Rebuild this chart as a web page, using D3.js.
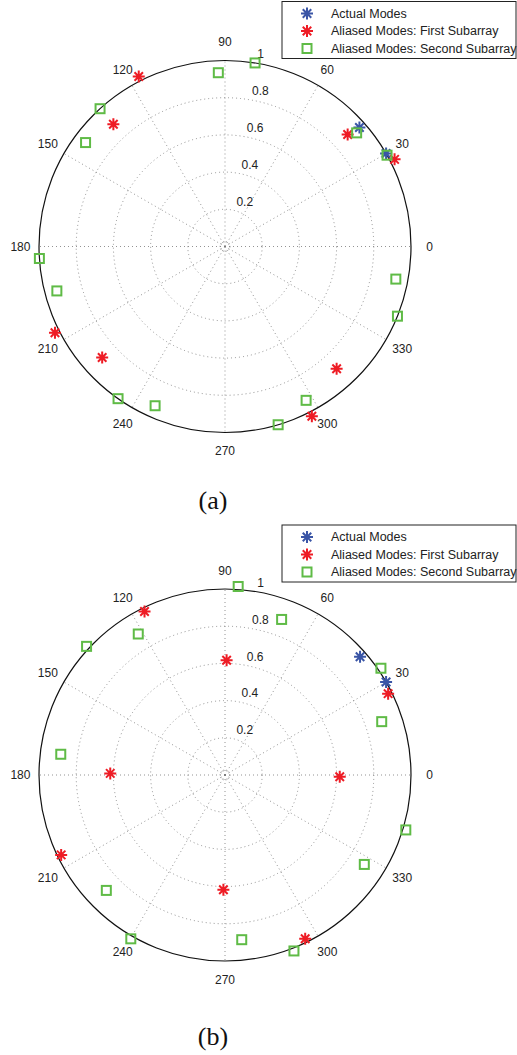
<!DOCTYPE html>
<html lang="en">
<head>
<meta charset="UTF-8">
<script src="https://d3js.org/d3.v7.min.js"></script>
<style>
  body { margin: 0; background: #fff; }
  text { font-family: "Liberation Sans", Arial, sans-serif; }
</style>
</head>
<body>
<div class="chart"></div>
<script>
// angle ticks (degrees) and radius ticks
var thetaTicks = [0, 30, 60, 90, 120, 150, 180, 210, 240, 270, 300, 330]
var rTicks = [0.2, 0.4, 0.6, 0.8, 1]
var legendLabels = ["Actual Modes", "Aliased Modes: First Subarray", "Aliased Modes: Second Subarray"]
var captions = ["(a)", "(b)"]

// panel (a)
var aActualTheta = [41.5, 30]
var aActualR = [0.965, 1.0]
var aFirstTheta = [116.9, 132.4, 42.4, 27.2, 206.9, 222.1, 312.4, 297.1]
var aFirstR = [1.025, 0.89, 0.893, 1.025, 1.025, 0.89, 0.89, 1.025]
var aSecondTheta = [80.7, 92.2, 132.2, 143.3, 40.8, 29.4, 183.7, 194.8, 349.2, 338, 234.9, 246.3, 297.8, 286.6]
var aSecondR = [1.0, 0.935, 1.0, 0.935, 0.935, 1.0, 1.0, 0.935, 0.935, 1.0, 1.0, 0.935, 0.935, 1.0]

// panel (b)
var bActualTheta = [41.2, 30]
var bActualR = [0.965, 1.0]
var bFirstTheta = [116.2, 89.2, 26.5, 179.2, 359.1, 206, 269.2, 296.1]
var bFirstR = [0.98, 0.617, 0.98, 0.617, 0.617, 0.98, 0.617, 0.98]
var bSecondTheta = [86, 70, 121.6, 137.1, 34.4, 18.8, 172.8, 343.1, 327.3, 224.2, 240.1, 275.8, 291.4]
var bSecondR = [1.016, 0.89, 0.89, 1.016, 1.016, 0.89, 0.89, 1.016, 0.89, 0.89, 1.016, 0.89, 1.016]

var colors = { actual: "#3a55a6", first: "#ee1c25", second: "#5fbb46" }

var svg = d3.select(".chart").append("svg")
    .attr("width", 517)
    .attr("height", 1055)

var R = 186
var rScale = d3.scaleLinear().domain([0, 1]).range([0, R])
var rad = d => d * Math.PI / 180

// matlab style '*' marker: plus + cross
function starPath(s) {
    var d = s * 0.7071
    return "M" + (-s) + ",0L" + s + ",0M0," + (-s) + "L0," + s +
        "M" + (-d) + "," + (-d) + "L" + d + "," + d +
        "M" + (-d) + "," + d + "L" + d + "," + (-d)
}

function drawPolar(cx, cy, legendY, caption, captionY, series) {
    var g = svg.append("g").attr("transform", "translate(" + cx + "," + cy + ")")
    var px = (t, r) => rScale(r) * Math.cos(rad(t))
    var py = (t, r) => -rScale(r) * Math.sin(rad(t))

    // dotted grid rings
    g.selectAll(".ring").data(rTicks.slice(0, -1)).enter().append("circle")
        .attr("r", d => rScale(d))
        .attr("fill", "none")
        .attr("stroke", "#777")
        .attr("stroke-width", 0.8)
        .attr("stroke-dasharray", "1,3")
    g.append("circle").attr("r", 5).attr("fill", "none")
        .attr("stroke", "#777").attr("stroke-width", 0.8).attr("stroke-dasharray", "1,2")

    // dotted spokes
    g.selectAll(".spoke").data(thetaTicks).enter().append("line")
        .attr("x1", 0).attr("y1", 0)
        .attr("x2", d => px(d, 1)).attr("y2", d => py(d, 1))
        .attr("stroke", "#777")
        .attr("stroke-width", 0.8)
        .attr("stroke-dasharray", "1,3")

    // outer circle
    g.append("circle").attr("r", R).attr("fill", "none")
        .attr("stroke", "#111").attr("stroke-width", 1.2)

    // angle labels
    g.selectAll(".tlab").data(thetaTicks).enter().append("text")
        .attr("x", d => px(d, 1.1))
        .attr("y", d => py(d, 1.1))
        .attr("dy", "0.35em")
        .attr("text-anchor", "middle")
        .attr("font-size", 12)
        .attr("fill", "#222")
        .text(d => d)

    // radius labels along 82 degrees
    g.selectAll(".rlab").data(rTicks).enter().append("text")
        .attr("x", d => px(82, d + 0.01) + 6)
        .attr("y", d => py(82, d + 0.01) - 2)
        .attr("font-size", 12)
        .attr("fill", "#222")
        .text(d => d)

    // markers
    var keys = ["actual", "first", "second"]
    keys.forEach(function (k) {
        var s = series[k]
        var pts = s.theta.map((t, i) => [px(t, s.r[i]), py(t, s.r[i])])
        if (k == "second") {
            g.selectAll(".m" + k).data(pts).enter().append("rect")
                .attr("x", d => d[0] - 4.5).attr("y", d => d[1] - 4.5)
                .attr("width", 9).attr("height", 9)
                .attr("fill", "none")
                .attr("stroke", colors[k])
                .attr("stroke-width", 2)
        } else {
            g.selectAll(".m" + k).data(pts).enter().append("path")
                .attr("transform", d => "translate(" + d[0] + "," + d[1] + ")")
                .attr("d", starPath(6))
                .attr("stroke", colors[k])
                .attr("stroke-width", 2)
        }
    })

    // legend
    var lg = svg.append("g").attr("transform", "translate(282," + legendY + ")")
    lg.append("rect").attr("x", 0).attr("y", 0).attr("width", 234).attr("height", 57)
        .attr("fill", "#fff").attr("stroke", "#222").attr("stroke-width", 1)
    legendLabels.forEach(function (lab, i) {
        var yy = 12 + i * 17.5
        if (i == 2) {
            lg.append("rect").attr("x", 25 - 4.5).attr("y", yy - 4.5)
                .attr("width", 9).attr("height", 9)
                .attr("fill", "none").attr("stroke", colors[keys[i]]).attr("stroke-width", 2)
        } else {
            lg.append("path").attr("transform", "translate(25," + yy + ")")
                .attr("d", starPath(6))
                .attr("stroke", colors[keys[i]]).attr("stroke-width", 2)
        }
        lg.append("text").attr("x", 49).attr("y", yy).attr("dy", "0.35em")
            .attr("font-size", 12.5).attr("fill", "#222").text(lab)
    })

    svg.append("text").attr("x", 213).attr("y", captionY)
        .attr("text-anchor", "middle")
        .style("font-family", "'Liberation Serif', serif")
        .attr("font-size", 26).attr("fill", "#111")
        .text(caption)
}

drawPolar(225, 246.5, 1.5, captions[0], 509, {
    actual: { theta: aActualTheta, r: aActualR },
    first: { theta: aFirstTheta, r: aFirstR },
    second: { theta: aSecondTheta, r: aSecondR }
})
drawPolar(225, 775, 525, captions[1], 1045, {
    actual: { theta: bActualTheta, r: bActualR },
    first: { theta: bFirstTheta, r: bFirstR },
    second: { theta: bSecondTheta, r: bSecondR }
})
</script>
</body>
</html>
